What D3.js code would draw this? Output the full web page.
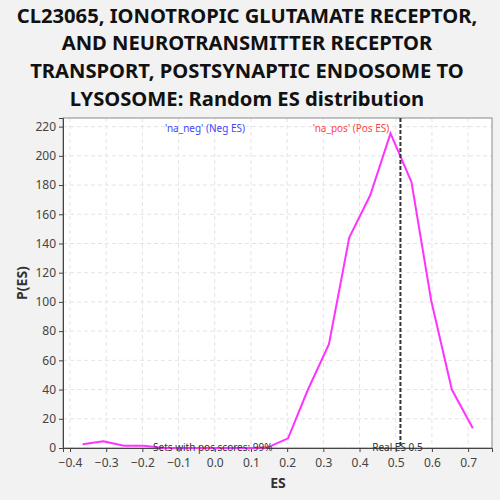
<!DOCTYPE html>
<html><head><meta charset="utf-8">
<script src="https://cdn.jsdelivr.net/npm/d3@7"></script>
<style>body{margin:0;background:#f2f2f2;font-family:"Noto Sans","Open Sans",sans-serif;}</style>
</head><body><svg id="c" width="500" height="500"></svg>
<script>
const titleLines = ["CL23065, IONOTROPIC GLUTAMATE RECEPTOR,", "AND NEUROTRANSMITTER RECEPTOR", "TRANSPORT, POSTSYNAPTIC ENDOSOME TO", "LYSOSOME: Random ES distribution"];
const esValues = [-0.365, -0.308, -0.251, -0.196, -0.14, -0.08, -0.025, 0.03, 0.09, 0.145, 0.2025, 0.257, 0.3155, 0.3716, 0.4295, 0.4856, 0.5435, 0.598, 0.655, 0.713];
const pValues  = [2.5, 4.6, 1.6, 1.6, 0, 0, 0, 0, 0, 0.3, 6.6, 39.7, 71, 144, 173, 215.4, 182, 101, 40, 13.5];
const xTicks = [-0.4, -0.3, -0.2, -0.1, 0.0, 0.1, 0.2, 0.3, 0.4, 0.5, 0.6, 0.7];
const yTicks = [0, 20, 40, 60, 80, 100, 120, 140, 160, 180, 200, 220];
const realES = 0.513;
const realLabel = "Real ES 0.5";
const posLabel = "Sets with pos scores: 99%";
const negName = "'na_neg' (Neg ES)";
const posName = "'na_pos' (Pos ES)";

const svg = d3.select("#c");
const L = 63, R = 492, T = 118, B = 448;
const x = d3.scaleLinear().domain([-0.4193, 0.766]).range([L, R]);
const y = d3.scaleLinear().domain([0, 225.9]).range([B, T]);

svg.append("rect").attr("x", L).attr("y", T).attr("width", R - L).attr("height", B - T).attr("fill", "#fff");

// grid
svg.append("g").selectAll("line").data(xTicks).join("line")
  .attr("x1", d => x(d)).attr("x2", d => x(d)).attr("y1", T).attr("y2", B)
  .attr("stroke", "#e4e4e4").attr("stroke-dasharray", "4,3");
svg.append("g").selectAll("line").data(yTicks).join("line")
  .attr("x1", L).attr("x2", R).attr("y1", d => y(d)).attr("y2", d => y(d))
  .attr("stroke", "#e4e4e4").attr("stroke-dasharray", "4,3");

svg.append("rect").attr("x", L).attr("y", T).attr("width", R - L).attr("height", B - T)
  .attr("fill", "none").attr("stroke", "#888");

// axes
const xa = svg.append("g").attr("transform", `translate(0,${B})`)
  .call(d3.axisBottom(x).tickValues(xTicks).tickFormat(d3.format(".1f")).tickSize(4));
const ya = svg.append("g").attr("transform", `translate(${L},0)`)
  .call(d3.axisLeft(y).tickValues(yTicks).tickSize(4));
[xa, ya].forEach(a => {
  a.selectAll("text").attr("fill", "#444").style("font-size", "12px").style("font-family", "Noto Sans, sans-serif");
  a.selectAll("line").attr("stroke", "#444");
  a.select(".domain").attr("stroke", "#444");
});
xa.selectAll("text").attr("dy", "1.0em");

// line
const pts = esValues.map((v, i) => [v, pValues[i]]);
svg.append("path").datum(pts)
  .attr("d", d3.line().x(d => x(d[0])).y(d => y(d[1])))
  .attr("fill", "none").attr("stroke", "#ff33ff").attr("stroke-width", 2);

// real ES line
svg.append("line").attr("x1", x(realES)).attr("x2", x(realES)).attr("y1", T).attr("y2", B)
  .attr("stroke", "#333").attr("stroke-width", 2).attr("stroke-dasharray", "4,2");

svg.append("text").attr("x", x(realES) - 3).attr("y", 451).attr("text-anchor", "middle")
  .style("font-size", "10px").attr("fill", "#333").text(realLabel);
svg.append("text").attr("x", 153).attr("y", 451)
  .style("font-size", "10px").attr("fill", "#333").text(posLabel);

svg.append("text").attr("x", 205).attr("y", 132).attr("text-anchor", "middle")
  .style("font-size", "10px").attr("fill", "#4444ff").text(negName);
svg.append("text").attr("x", 351).attr("y", 132).attr("text-anchor", "middle")
  .style("font-size", "10px").attr("fill", "#ff4444").text(posName);

// titles
svg.append("g").selectAll("text").data(titleLines).join("text")
  .attr("x", 247).attr("y", (d, i) => 22.5 + i * 27.8).attr("text-anchor", "middle")
  .style("font-size", "20.2px").style("font-weight", "bold").attr("fill", "#111").text(d => d);

svg.append("text").attr("x", 278).attr("y", 488).attr("text-anchor", "middle")
  .style("font-size", "14px").style("font-weight", "bold").attr("fill", "#333").text("ES");
svg.append("text").attr("transform", "translate(27,283) rotate(-90)").attr("text-anchor", "middle")
  .style("font-size", "14px").style("font-weight", "bold").attr("fill", "#333").text("P(ES)");
</script></body></html>
